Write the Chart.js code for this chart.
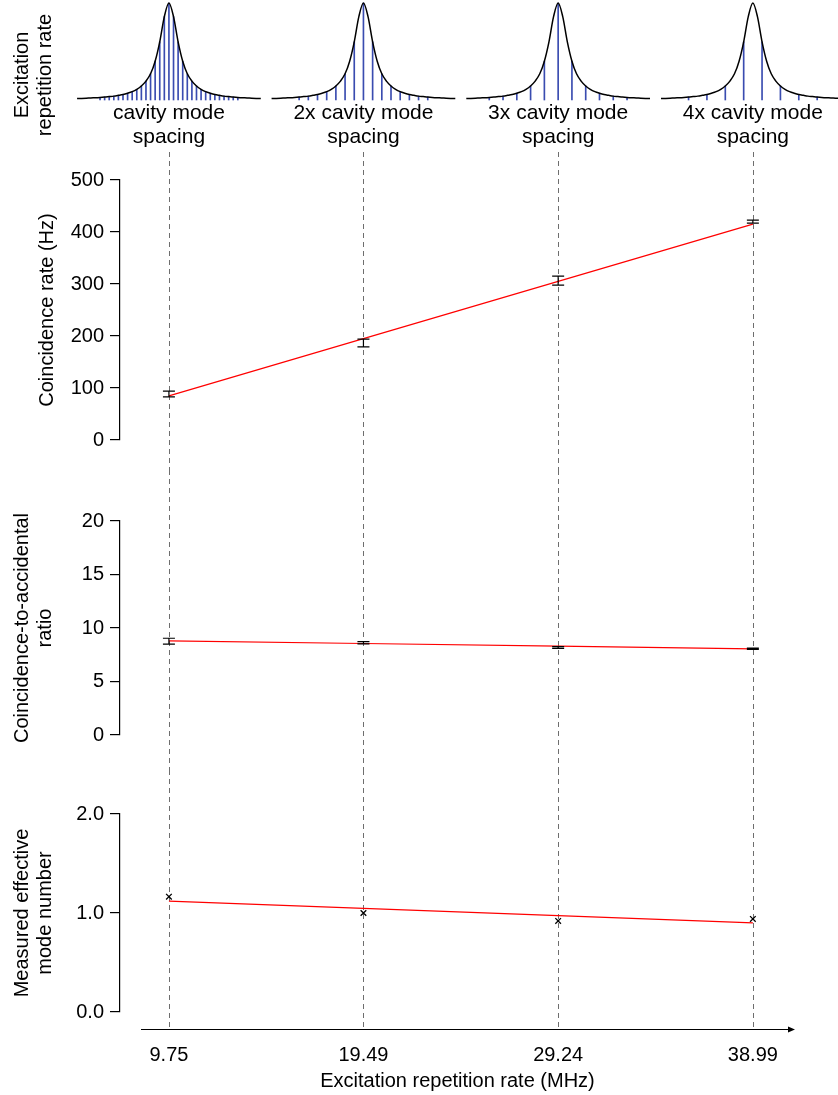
<!DOCTYPE html>
<html>
<head>
<meta charset="utf-8">
<script src="https://cdn.jsdelivr.net/npm/chart.js@4.4.1/dist/chart.umd.min.js"></script>
<style>
  html, body { margin: 0; padding: 0; background: #fff; }
  #page { position: relative; width: 838px; height: 1095px; }
  canvas { position: absolute; left: 0; }
</style>
</head>
<body>
<div id="page">
  <canvas id="modes" width="838" height="150" style="top:0"></canvas>
  <canvas id="coinc" width="838" height="320" style="top:150px"></canvas>
  <canvas id="car" width="838" height="300" style="top:470px"></canvas>
  <canvas id="modeNum" width="838" height="325" style="top:770px"></canvas>
</div>
<script>
// --- Data ---
const rates = [9.75, 19.49, 29.24, 38.99];
const rateLabels = ['9.75', '19.49', '29.24', '38.99'];

// top strip: cavity line height at 0..20 modes away from centre
const profile = [1.00, 0.86, 0.60, 0.40, 0.27, 0.195, 0.145, 0.11, 0.086, 0.07, 0.057,
                 0.048, 0.04, 0.035, 0.03, 0.026, 0.023, 0.021, 0.018, 0.016, 0.015];
const panelLabels = [
  ['cavity mode', 'spacing'],
  ['2x cavity mode', 'spacing'],
  ['3x cavity mode', 'spacing'],
  ['4x cavity mode', 'spacing']
];
const modeStride = [1, 2, 3, 4];   // every n-th mode is excited
const modeShift = [0, 0, 0, 2];    // 4x comb sits between modes
const stickReach = 15;             // comb lines drawn out to +-15 modes
const modeWidth = 0.23;            // MHz of drawing per cavity mode

const coincRate = [88.5, 186.5, 306.5, 420];
const coincErr = [5.5, 7.5, 8.5, 3];
const coincFit = [85, 195, 305, 415];

const carRatio = [8.77, 8.62, 8.18, 8.06];
const carErr = [0.27, 0.1, 0.08, 0.06];
const carFit = [8.8, 8.55, 8.3, 8.05];

const modeNumber = [1.165, 1.0, 0.92, 0.94];
const modeFit = [1.12, 1.047, 0.973, 0.9];

// --- Shared look ---
const FONT = "'Liberation Sans', Arial, sans-serif";
Chart.defaults.font.family = FONT;
Chart.defaults.font.size = 20;
Chart.defaults.color = '#000';
Chart.defaults.animation = false;
Chart.defaults.plugins.legend.display = false;
Chart.defaults.plugins.tooltip.enabled = false;

const WIDTH = 838, PLOT_LEFT = 120, PLOT_RIGHT = 795;
const X_MIN = 7.3, X_MAX = 41.1;
const AXIS_GAP = 17; // x axis line sits below the 0 tick of the last panel

// top strip uses the whole canvas width with the same MHz-per-pixel mapping
const mhzPerPx = (X_MAX - X_MIN) / (PLOT_RIGHT - PLOT_LEFT);
const TOP_MIN = X_MIN - PLOT_LEFT * mhzPerPx;
const TOP_MAX = X_MAX + (WIDTH - PLOT_RIGHT) * mhzPerPx;

function xScale(min, max, show, labels, ticks, extra) {
  return Object.assign({
    type: 'linear', min, max, offset: false, display: show,
    grid: { display: false, drawTicks: false }, border: { display: false },
    afterBuildTicks: s => { s.ticks = rates.map(v => ({ value: v })); },
    afterFit: s => { s.paddingLeft = 0; s.paddingRight = 0; },
    ticks: Object.assign({ autoSkip: false, maxRotation: 0, callback: (v, i) => labels[i] }, ticks || {})
  }, extra || {});
}

function yScale(min, max, step, title, titlePad, digits) {
  return {
    min, max,
    afterFit: s => { s.width = PLOT_LEFT; },
    ticks: { stepSize: step, padding: 6, callback: v => v.toFixed(digits) },
    grid: { drawOnChartArea: false, tickLength: 10, color: '#000', lineWidth: 1.2 },
    border: { display: true, color: '#000', width: 1.2 },
    title: { display: true, text: title, font: { size: 20, lineHeight: 1.15 }, padding: { top: titlePad, bottom: 0 } }
  };
}

// --- Plugins ---
function guides(top, toAxis) {
  return {
    id: 'guides',
    beforeDatasetsDraw(chart) {
      const { ctx, scales: { x } } = chart;
      const bottom = toAxis ? chart.chartArea.bottom + AXIS_GAP : chart.height;
      ctx.save();
      ctx.strokeStyle = '#6e6e6e';
      ctx.lineWidth = 1;
      ctx.setLineDash([5, 4]);
      rates.forEach(v => {
        const px = Math.round(x.getPixelForValue(v)) + 0.5;
        ctx.beginPath();
        ctx.moveTo(px, top);
        ctx.lineTo(px, bottom);
        ctx.stroke();
      });
      ctx.restore();
    }
  };
}

function errorBars(values, errors) {
  return {
    id: 'errorBars',
    afterDatasetsDraw(chart) {
      const { ctx, scales: { x, y } } = chart;
      ctx.save();
      ctx.strokeStyle = '#000';
      ctx.lineWidth = 1.2;
      values.forEach((v, i) => {
        const px = x.getPixelForValue(rates[i]);
        const hi = y.getPixelForValue(v + errors[i]);
        const lo = y.getPixelForValue(v - errors[i]);
        ctx.beginPath();
        ctx.moveTo(px, hi); ctx.lineTo(px, lo);
        ctx.moveTo(px - 6, hi); ctx.lineTo(px + 6, hi);
        ctx.moveTo(px - 6, lo); ctx.lineTo(px + 6, lo);
        ctx.stroke();
      });
      ctx.restore();
    }
  };
}

const arrowAxis = {
  id: 'arrowAxis',
  afterDraw(chart) {
    const { ctx, chartArea } = chart;
    const y = chartArea.bottom + AXIS_GAP + 0.5;
    const x0 = chartArea.left + 21, x1 = chartArea.right;
    ctx.save();
    ctx.strokeStyle = '#000';
    ctx.fillStyle = '#000';
    ctx.lineWidth = 1.2;
    ctx.beginPath();
    ctx.moveTo(x0, y);
    ctx.lineTo(x1 - 4, y);
    ctx.stroke();
    ctx.beginPath();
    ctx.moveTo(x1, y);
    ctx.lineTo(x1 - 7, y - 3);
    ctx.lineTo(x1 - 7, y + 3);
    ctx.closePath();
    ctx.fill();
    ctx.restore();
  }
};

const sideTitle = {
  id: 'sideTitle',
  afterDraw(chart) {
    const { ctx } = chart;
    ctx.save();
    ctx.translate(22, 75);
    ctx.rotate(-Math.PI / 2);
    ctx.font = '20px ' + FONT;
    ctx.fillStyle = '#000';
    ctx.textAlign = 'center';
    ctx.textBaseline = 'middle';
    ['Excitation', 'repetition rate'].forEach((t, i) => ctx.fillText(t, 0, i * 23));
    ctx.restore();
  }
};

// --- Top strip: Lorentzian with excited comb lines ---
const span = profile.length - 1;
const offsets = [];
for (let k = -span; k <= span; k++) offsets.push(k);

const stickSets = rates.map((c, p) => ({
  type: 'bar',
  data: offsets
    .filter(k => Math.abs(k) <= stickReach)
    .filter(k => ((k - modeShift[p]) % modeStride[p] + modeStride[p]) % modeStride[p] === 0)
    .map(k => ({ x: c + k * modeWidth, y: profile[Math.abs(k)] })),
  backgroundColor: '#3a4cb0',
  barThickness: 1,
  grouped: false,
  clip: false,
  order: 2
}));

const curveSets = rates.map(c => ({
  type: 'line',
  data: offsets.map(k => ({ x: c + k * modeWidth, y: profile[Math.abs(k)] })),
  borderColor: '#000',
  borderWidth: 1.5,
  pointRadius: 0,
  cubicInterpolationMode: 'monotone',
  clip: false,
  order: 1
}));

new Chart('modes', {
  type: 'line',
  data: { datasets: [...stickSets, ...curveSets] },
  options: {
    responsive: false,
    layout: { padding: { left: 0, right: 0, top: 3, bottom: 0 } },
    scales: {
      x: xScale(TOP_MIN, TOP_MAX, true, panelLabels,
        { padding: 1, font: { size: 21, lineHeight: 24 / 21 } },
        { afterFit: s => { s.paddingLeft = 0; s.paddingRight = 0; s.height = 50; } }),
      y: { display: false, min: 0, max: 1 }
    }
  },
  plugins: [sideTitle]
});

// --- Coincidence rate ---
new Chart('coinc', {
  type: 'line',
  data: {
    datasets: [
      { data: rates.map((x, i) => ({ x, y: coincRate[i] })), showLine: false, pointRadius: 0 },
      { data: rates.map((x, i) => ({ x, y: coincFit[i] })), borderColor: '#ff0000', borderWidth: 1.2, pointRadius: 0 }
    ]
  },
  options: {
    responsive: false,
    layout: { padding: { left: 0, right: WIDTH - PLOT_RIGHT, top: 30, bottom: 30 } },
    scales: {
      x: xScale(X_MIN, X_MAX, false, rateLabels),
      y: yScale(0, 500, 100, 'Coincidence rate (Hz)', 35.5, 0)
    }
  },
  plugins: [guides(2, false), errorBars(coincRate, coincErr)]
});

// --- Coincidence-to-accidental ratio ---
new Chart('car', {
  type: 'line',
  data: {
    datasets: [
      { data: rates.map((x, i) => ({ x, y: carRatio[i] })), showLine: false, pointRadius: 0 },
      { data: rates.map((x, i) => ({ x, y: carFit[i] })), borderColor: '#ff0000', borderWidth: 1.2, pointRadius: 0 }
    ]
  },
  options: {
    responsive: false,
    layout: { padding: { left: 0, right: WIDTH - PLOT_RIGHT, top: 51, bottom: 35 } },
    scales: {
      x: xScale(X_MIN, X_MAX, false, rateLabels),
      y: yScale(0, 20, 5, ['Coincidence-to-accidental', 'ratio'], 10.5, 0)
    }
  },
  plugins: [guides(0, false), errorBars(carRatio, carErr)]
});

// --- Effective mode number ---
new Chart('modeNum', {
  type: 'line',
  data: {
    datasets: [
      { data: rates.map((x, i) => ({ x, y: modeFit[i] })), borderColor: '#ff0000', borderWidth: 1.2, pointRadius: 0 },
      {
        data: rates.map((x, i) => ({ x, y: modeNumber[i] })), showLine: false,
        pointStyle: 'crossRot', pointRadius: 4, borderColor: '#000', borderWidth: 1.3
      }
    ]
  },
  options: {
    responsive: false,
    layout: { padding: { left: 0, right: WIDTH - PLOT_RIGHT, top: 44, bottom: 0 } },
    scales: {
      x: xScale(X_MIN, X_MAX, true, rateLabels, { padding: 31 }, {
        afterFit: s => { s.paddingLeft = 0; s.paddingRight = 0; s.height = 83; },
        title: { display: true, text: 'Excitation repetition rate (MHz)', font: { size: 20, lineHeight: 1.2 }, padding: { top: 0, bottom: 2 } }
      }),
      y: yScale(0, 2, 1, ['Measured effective', 'mode number'], 10.5, 1)
    }
  },
  plugins: [guides(0, true), arrowAxis]
});
</script>
</body>
</html>
